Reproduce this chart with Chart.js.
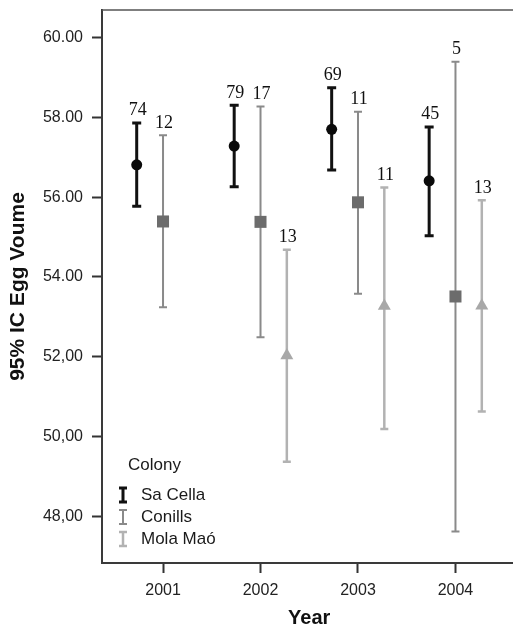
<!DOCTYPE html>
<html>
<head>
<meta charset="utf-8">
<script src="https://cdn.jsdelivr.net/npm/chart.js@4/dist/chart.umd.min.js"></script>
<style>
  html, body { margin: 0; padding: 0; background: #fff; overflow: hidden; }
  #wrap { width: 513px; height: 630px; overflow: hidden; position: relative; }
  canvas { display: block; }
</style>
</head>
<body>
<div id="wrap"><canvas id="c" width="540" height="630"></canvas></div>
<script>
// ---- data ----
const years = [2001, 2002, 2003, 2004];
const seriesNames = ["Sa Cella", "Conills", "Mola Maó"];
const saCellaMean = [56.81, 57.28, 57.70, 56.41];
const saCellaLow  = [55.77, 56.26, 56.68, 55.03];
const saCellaHigh = [57.86, 58.30, 58.74, 57.76];
const saCellaN    = [74, 79, 69, 45];
const conillsMean = [55.39, 55.38, 55.87, 53.51];
const conillsLow  = [53.24, 52.49, 53.58, 47.62];
const conillsHigh = [57.55, 58.27, 58.14, 59.39];
const conillsN    = [12, 17, 11, 5];
const molaMean = [null, 52.03, 53.27, 53.28];
const molaLow  = [null, 49.37, 50.19, 50.63];
const molaHigh = [null, 54.68, 56.24, 55.92];
const molaN    = [null, 13, 11, 13];
const yTickValues = [48, 50, 52, 54, 56, 58, 60];
const yTickLabels = ["48,00", "50,00", "52,00", "54.00", "56.00", "58.00", "60.00"];
const xAxisTitle = "Year";
const yAxisTitle = "95% IC Egg Voume";
const legendTitle = "Colony";

// ---- styles ----
const offsets = [-0.27, 0, 0.27];
const barColors = ["#111111", "#8a8a8a", "#b2b2b2"];
const markColors = ["#0a0a0a", "#6c6c6c", "#a8a8a8"];
const barWidths = [3, 2, 2.5];
const capHalf = [4.5, 4, 4];

function mkData(mean, off) {
  const out = [];
  years.forEach((yr, i) => { if (mean[i] !== null) out.push({ x: yr + off, y: mean[i] }); });
  return out;
}
function pick(arr, mean) { return arr.filter((v, i) => mean[i] !== null); }

const datasets = [
  { label: seriesNames[0], data: mkData(saCellaMean, offsets[0]), low: pick(saCellaLow, saCellaMean), high: pick(saCellaHigh, saCellaMean), n: pick(saCellaN, saCellaMean),
    pointStyle: 'circle', pointRadius: 5.5, backgroundColor: markColors[0], borderColor: markColors[0], borderWidth: 0 },
  { label: seriesNames[1], data: mkData(conillsMean, offsets[1]), low: pick(conillsLow, conillsMean), high: pick(conillsHigh, conillsMean), n: pick(conillsN, conillsMean),
    pointStyle: 'rect', pointRadius: 8.5, backgroundColor: markColors[1], borderColor: markColors[1], borderWidth: 0 },
  { label: seriesNames[2], data: mkData(molaMean, offsets[2]), low: pick(molaLow, molaMean), high: pick(molaHigh, molaMean), n: pick(molaN, molaMean),
    pointStyle: 'triangle', pointRadius: 7.5, backgroundColor: markColors[2], borderColor: markColors[2], borderWidth: 0 }
];

const errorBarPlugin = {
  id: 'errorBars',
  beforeDatasetsDraw(chart) {
    const ctx = chart.ctx, xs = chart.scales.x, ys = chart.scales.y;
    const ca = chart.chartArea;
    ctx.save();
    ctx.strokeStyle = '#555';
    ctx.lineWidth = 1.5;
    ctx.beginPath();
    ctx.moveTo(ca.left, ca.top); ctx.lineTo(ca.right, ca.top); ctx.lineTo(ca.right, ca.bottom);
    ctx.stroke();
    chart.data.datasets.forEach((ds, d) => {
      ctx.strokeStyle = barColors[d];
      ctx.lineWidth = barWidths[d];
      ds.data.forEach((p, i) => {
        const x = xs.getPixelForValue(p.x);
        const yl = ys.getPixelForValue(ds.low[i]);
        const yh = ys.getPixelForValue(ds.high[i]);
        ctx.beginPath();
        ctx.moveTo(x, yl); ctx.lineTo(x, yh);
        ctx.moveTo(x - capHalf[d], yl); ctx.lineTo(x + capHalf[d], yl);
        ctx.moveTo(x - capHalf[d], yh); ctx.lineTo(x + capHalf[d], yh);
        ctx.stroke();
      });
    });
    ctx.restore();
  },
  afterDatasetsDraw(chart) {
    const ctx = chart.ctx, xs = chart.scales.x, ys = chart.scales.y;
    const ca = chart.chartArea;
    ctx.save();
    ctx.font = '18px "Liberation Serif", "Times New Roman", serif';
    ctx.fillStyle = '#111';
    ctx.textAlign = 'center';
    ctx.textBaseline = 'alphabetic';
    chart.data.datasets.forEach((ds) => {
      ds.data.forEach((p, i) => {
        const x = xs.getPixelForValue(p.x);
        const yh = ys.getPixelForValue(ds.high[i]);
        ctx.fillText(String(ds.n[i]), x + 1, yh - 7.5);
      });
    });
    const lx = ca.left + 21, ty = ca.bottom - 98;
    ctx.font = '17px "Liberation Sans", Arial, sans-serif';
    ctx.textAlign = 'left';
    ctx.textBaseline = 'middle';
    ctx.fillStyle = '#1a1a1a';
    ctx.fillText(legendTitle, lx + 5, ty);
    seriesNames.forEach((name, k) => {
      const cy = ty + 30 + k * 22;
      ctx.strokeStyle = barColors[k];
      ctx.lineWidth = barWidths[k];
      ctx.beginPath();
      ctx.moveTo(lx, cy - 7); ctx.lineTo(lx, cy + 7);
      ctx.moveTo(lx - 4, cy - 7); ctx.lineTo(lx + 4, cy - 7);
      ctx.moveTo(lx - 4, cy + 7); ctx.lineTo(lx + 4, cy + 7);
      ctx.stroke();
      ctx.fillStyle = '#1a1a1a';
      ctx.fillText(name, lx + 18, cy);
    });
    ctx.restore();
  }
};

new Chart(document.getElementById('c'), {
  type: 'scatter',
  data: { datasets },
  options: {
    responsive: false,
    devicePixelRatio: 1,
    animation: false,
    clip: false,
    layout: { padding: { top: 10, right: 23.5, left: 0, bottom: 0 } },
    plugins: { legend: { display: false }, tooltip: { enabled: false } },
    scales: {
      x: {
        type: 'linear',
        min: 2000.374, max: 2004.626,
        afterBuildTicks: (s) => { s.ticks = years.map(v => ({ value: v })); },
        afterFit: (s) => { s.height = 67; s.paddingLeft = 0; s.paddingRight = 0; },
        grid: { drawOnChartArea: false, drawTicks: true, tickLength: 10, tickColor: '#333', tickWidth: 2 },
        border: { display: true, color: '#3a3a3a', width: 2 },
        ticks: { callback: (v) => String(v), color: '#222', padding: 8, maxRotation: 0,
                 font: { family: '"Liberation Sans", Arial, sans-serif', size: 16 } },
        title: { display: true, text: xAxisTitle, color: '#111', padding: { top: 0, bottom: 0 },
                 font: { family: '"Liberation Sans", Arial, sans-serif', size: 20, weight: 'bold' } }
      },
      y: {
        type: 'linear',
        min: 46.83, max: 60.69,
        afterBuildTicks: (s) => { s.ticks = yTickValues.map(v => ({ value: v })); },
        afterFit: (s) => { s.width = 102; s.paddingTop = 0; s.paddingBottom = 0; },
        grid: { drawOnChartArea: false, drawTicks: true, tickLength: 10, tickColor: '#333', tickWidth: 2 },
        border: { display: true, color: '#3a3a3a', width: 2 },
        ticks: { callback: (v) => yTickLabels[yTickValues.indexOf(v)], color: '#222', padding: 9,
                 font: { family: '"Liberation Sans", Arial, sans-serif', size: 16 } },
        title: { display: true, text: yAxisTitle, color: '#111', padding: { top: 6, bottom: 0 },
                 font: { family: '"Liberation Sans", Arial, sans-serif', size: 21, weight: 'bold' } }
      }
    }
  },
  plugins: [errorBarPlugin]
});
</script>
</body>
</html>
